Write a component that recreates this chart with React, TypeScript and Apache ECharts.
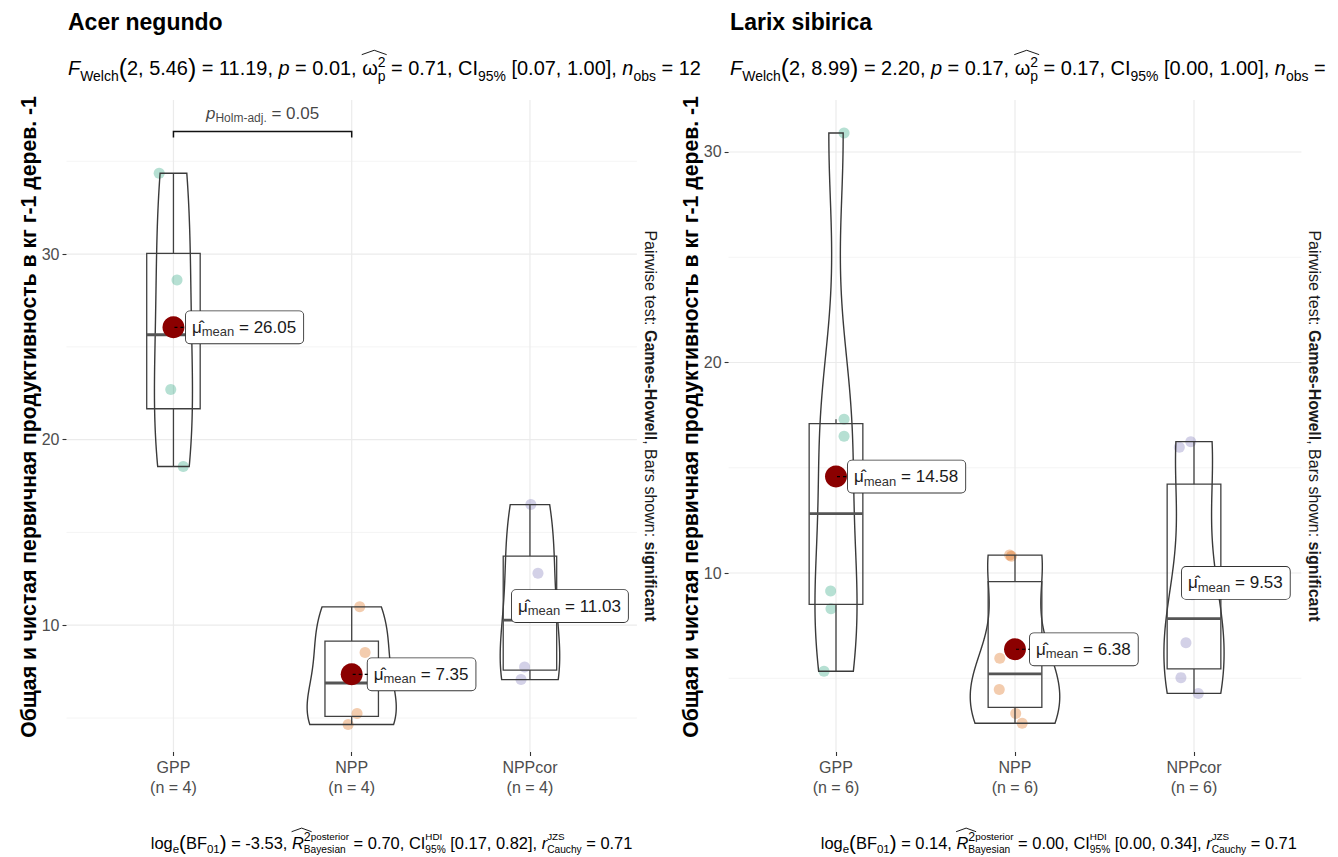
import React, { useEffect, useRef } from 'react';
import * as echarts from 'echarts';

const FONT = "'Liberation Sans', Arial, Helvetica, sans-serif";

// ---------- data ----------
const categories = ['GPP', 'NPP', 'NPPcor'];
const acerGPP = [34.35, 28.6, 22.7, 18.55];
const acerNPP = [10.99, 8.53, 5.24, 4.65];
const acerNPPcor = [16.5, 12.8, 7.75, 7.07];
const larixGPP = [30.9, 17.3, 16.5, 9.15, 8.3, 5.33];
const larixNPP = [10.85, 10.8, 5.95, 4.47, 3.33, 2.86];
const larixNPPcor = [16.24, 15.97, 8.97, 6.69, 5.03, 4.28];
const yTicks = [10, 20, 30];
const yMinorTicks = [5, 15, 25, 35];

const acerPairwise = [{ from: 'GPP', to: 'NPP', p: '0.05', y: 36.6 }];
const acerWelch = { df: '5.46', F: '11.19', p: '0.01', omega: '0.71', ci: '[0.07, 1.00]' };
const larixWelch = { df: '8.99', F: '2.20', p: '0.17', omega: '0.17', ci: '[0.00, 1.00]' };
const acerBayes = { bf: '-3.53', r2: '0.70', ci: '[0.17, 0.82]', r: '0.71' };
const larixBayes = { bf: '0.14', r2: '0.00', ci: '[0.00, 0.34]', r: '0.71' };

const Y_TITLE = 'Общая и чистая первичная продуктивность в кг г-1 дерев. -1';

// horizontal jitter of the raw points (category units)
const acerJitter = [[-0.08, 0.02, -0.015, 0.055], [0.045, 0.075, 0.03, -0.02], [0.005, 0.045, -0.03, -0.05]];
const larixJitter = [
  [0.045, 0.045, 0.045, -0.03, -0.028, -0.067],
  [-0.03, -0.02, -0.085, -0.088, 0.004, 0.04],
  [-0.018, -0.082, -0.01, -0.045, -0.073, 0.024],
];

const PALETTE = ['#1B9E77', '#D95F02', '#7570B3'];
const X_MIN = -0.6;
const X_MAX = 2.6;

// ---------- stats helpers ----------
const mean = (a: number[]) => a.reduce((s, v) => s + v, 0) / a.length;
const sdev = (a: number[]) => {
  const m = mean(a);
  return Math.sqrt(a.reduce((s, v) => s + (v - m) ** 2, 0) / (a.length - 1));
};
const q7 = (a: number[], p: number) => {
  const s = [...a].sort((x, y) => x - y);
  const h = (s.length - 1) * p;
  const lo = Math.floor(h);
  const hi = Math.min(lo + 1, s.length - 1);
  return s[lo] + (h - lo) * (s[hi] - s[lo]);
};
const nrd0 = (a: number[]) => {
  const hi = sdev(a);
  const lo = Math.min(hi, (q7(a, 0.75) - q7(a, 0.25)) / 1.34) || hi || 1;
  return 0.9 * lo * Math.pow(a.length, -0.2);
};
function density(a: number[], n = 200) {
  const bw = nrd0(a);
  const mn = Math.min(...a);
  const mx = Math.max(...a);
  const ys: number[] = [];
  const ds: number[] = [];
  for (let j = 0; j < n; j++) {
    const y = mn + ((mx - mn) * j) / (n - 1);
    let d = 0;
    for (const x of a) {
      const z = (y - x) / bw;
      d += Math.exp(-0.5 * z * z);
    }
    ys.push(y);
    ds.push(d / (a.length * bw * Math.sqrt(2 * Math.PI)));
  }
  return { ys, ds };
}
function boxStats(a: number[]) {
  const q1 = q7(a, 0.25);
  const med = q7(a, 0.5);
  const q3 = q7(a, 0.75);
  const iqr = q3 - q1;
  const lo = Math.min(...a.filter((v) => v >= q1 - 1.5 * iqr));
  const hi = Math.max(...a.filter((v) => v <= q3 + 1.5 * iqr));
  return [q1, med, q3, lo, hi];
}

// ---------- math text layout ----------
let _ctx: CanvasRenderingContext2D | null = null;
function textWidth(t: string, size: number, it?: boolean, b?: boolean) {
  if (!_ctx) _ctx = document.createElement('canvas').getContext('2d');
  _ctx!.font = `${it ? 'italic ' : ''}${b ? 'bold ' : ''}${size}px ${FONT}`;
  return _ctx!.measureText(t).width;
}
type Piece = { t: string; k?: number; it?: boolean; b?: boolean; dy?: number; sup?: Piece[]; sub?: Piece[]; hat?: boolean };
type Item = { t: string; x: number; dy: number; f: number; it?: boolean; b?: boolean };

function layout(pieces: Piece[], s: number) {
  const items: Item[] = [];
  const hats: number[][] = [];
  let x = 0;
  const push = (t: string, xx: number, dy: number, f: number, it?: boolean, b?: boolean) => {
    const lead = t.length - t.trimStart().length;
    const tt = t.trim();
    if (tt) items.push({ t: tt, x: xx + textWidth(t.slice(0, lead), f, it, b), dy, f, it, b });
    return textWidth(t, f, it, b);
  };
  for (const p of pieces) {
    const f = (p.k ?? 1) * s;
    const x0 = x;
    const w = p.t ? push(p.t, x, (p.dy ?? 0) * s, f, p.it, p.b) : 0;
    x += w;
    let supW = 0;
    let subW = 0;
    let firstSup = 0;
    if (p.sup) {
      let xx = x;
      p.sup.forEach((q, qi) => {
        const fq = (q.k ?? 0.7) * s;
        const wq = push(q.t, xx, (q.dy ?? -0.42) * s, fq, q.it, q.b);
        if (qi === 0) firstSup = wq;
        xx += wq;
      });
      supW = xx - x;
    }
    if (p.sub) {
      let xx = x;
      p.sub.forEach((q) => {
        const fq = (q.k ?? 0.7) * s;
        xx += push(q.t, xx, (q.dy ?? 0.3) * s, fq, q.it, q.b);
      });
      subW = xx - x;
    }
    if (p.hat) hats.push([x0 - 0.02 * s, x + firstSup + 0.06 * s]);
    x += Math.max(supW, subW);
  }
  return { items, hats, width: x };
}

function mathGroup(pieces: Piece[], s: number, o: { x: number; y: number; align?: string; rotation?: number; center?: boolean; color?: string }) {
  const L = layout(pieces, s);
  const off = o.align === 'right' ? -L.width : o.align === 'center' ? -L.width / 2 : 0;
  const color = o.color ?? '#000';
  const shift = o.center ? 0.35 * s : 0;
  const children: any[] = L.items.map((it) => ({
    type: 'text',
    x: off + it.x,
    y: it.dy - 0.35 * it.f + shift,
    style: {
      text: it.t,
      fontSize: it.f,
      fontFamily: FONT,
      fontStyle: it.it ? 'italic' : 'normal',
      fontWeight: it.b ? 'bold' : 'normal',
      fill: color,
      textAlign: 'left',
      textVerticalAlign: 'middle',
    },
  }));
  L.hats.forEach(([a, b]) => {
    children.push({
      type: 'polyline',
      shape: { points: [[off + a, -1.02 * s + shift], [off + (a + b) / 2, -1.24 * s + shift], [off + b, -1.02 * s + shift]] },
      style: { stroke: color, lineWidth: 0.9, fill: 'none' },
    });
  });
  return { type: 'group', x: o.x, y: o.y, rotation: o.rotation ?? 0, children };
}

const SUBK = 0.7;
// showN: the reference's right-hand subtitle is cut at the page edge right after "n_obs ="
function subtitlePieces(w: typeof acerWelch, n: number, showN: boolean): Piece[] {
  return [
    { t: 'F', it: true },
    { t: 'Welch', k: SUBK, dy: 0.3 },
    { t: '(', k: 1.25, dy: 0.08 },
    { t: `2, ${w.df}` },
    { t: ')', k: 1.25, dy: 0.08 },
    { t: ` = ${w.F}, ` },
    { t: 'p', it: true },
    { t: ` = ${w.p}, ` },
    { t: 'ω', hat: true, sup: [{ t: '2' }], sub: [{ t: 'p' }] },
    { t: ` = ${w.omega}, CI` },
    { t: '95%', k: SUBK, dy: 0.3 },
    { t: ` ${w.ci}, ` },
    { t: 'n', it: true },
    { t: 'obs', k: SUBK, dy: 0.3 },
    { t: showN ? ` = ${n}` : ' =' },
  ];
}
function captionPieces(b: typeof acerBayes): Piece[] {
  return [
    { t: 'log' },
    { t: 'e', k: SUBK, dy: 0.3 },
    { t: '(', k: 1.25, dy: 0.08 },
    { t: 'BF' },
    { t: '01', k: SUBK, dy: 0.3 },
    { t: ')', k: 1.25, dy: 0.08 },
    { t: ` = ${b.bf}, ` },
    { t: 'R', it: true, hat: true, sup: [{ t: '2', k: 0.75 }, { t: 'posterior', k: 0.6, dy: -0.5 }], sub: [{ t: 'Bayesian', k: 0.62 }] },
    { t: ` = ${b.r2}, ` },
    { t: 'CI', sup: [{ t: 'HDI', k: 0.6, dy: -0.5 }], sub: [{ t: '95%', k: 0.62 }] },
    { t: ` ${b.ci}, ` },
    { t: 'r', it: true, sup: [{ t: 'JZS', k: 0.6, dy: -0.5 }], sub: [{ t: 'Cauchy', k: 0.62 }] },
    { t: ` = ${b.r}` },
  ];
}

// ---------- option ----------
function buildOption() {
  const panels = [
    {
      title: 'Acer negundo', groups: [acerGPP, acerNPP, acerNPPcor], jitter: acerJitter,
      yMin: 3.168, yMax: 38.3, left: 66.5, width: 570.4, nudge: [12.5, 16, -18],
      pairs: acerPairwise, welch: acerWelch, bayes: acerBayes, showN: true,
    },
    {
      title: 'Larix sibirica', groups: [larixGPP, larixNPP, larixNPPcor], jitter: larixJitter,
      yMin: 1.497, yMax: 32.47, left: 728.6, width: 572.8, nudge: [12, 15, -12],
      pairs: [] as typeof acerPairwise, welch: larixWelch, bayes: larixBayes, showN: false,
    },
  ];
  const TOP = 100;
  const HEIGHT = 652;

  const grid: any[] = [];
  const xAxis: any[] = [];
  const yAxis: any[] = [];
  const series: any[] = [];
  const graphic: any[] = [];

  // font sizes fitted to the reference extents
  const n0 = panels[0].groups.reduce((s, g) => s + g.length, 0);
  const sSub = (18 * 633) / layout(subtitlePieces(panels[0].welch, n0, true), 18).width;
  const sCap = (15 * 482) / layout(captionPieces(panels[0].bayes), 15).width;

  panels.forEach((P, p) => {
    const nObs = P.groups.reduce((s, g) => s + g.length, 0);
    grid.push({ left: P.left, top: TOP, width: P.width, height: HEIGHT });
    xAxis.push({
      type: 'value', gridIndex: p, min: X_MIN, max: X_MAX,
      axisLine: { show: false, onZero: false }, splitLine: { show: false },
      axisTick: { show: true, customValues: categories.map((_, i) => i), length: 4, lineStyle: { color: '#333', width: 1.1 } },
      axisLabel: {
        customValues: categories.map((_, i) => i),
        formatter: (v: number) => `${categories[Math.round(v)]}\n(n = ${P.groups[Math.round(v)].length})`,
        color: '#4D4D4D', fontSize: 16, lineHeight: 20, margin: 5, fontFamily: FONT,
      },
    });
    yAxis.push({
      type: 'value', gridIndex: p, min: P.yMin, max: P.yMax,
      axisLine: { show: false, onZero: false }, splitLine: { show: false },
      axisTick: { show: true, customValues: yTicks, length: 4, lineStyle: { color: '#333', width: 1.1 } },
      axisLabel: { customValues: yTicks, color: '#4D4D4D', fontSize: 16, margin: 7, fontFamily: FONT },
    });

    const inRange = (v: number) => v >= P.yMin && v <= P.yMax;
    const gridLines = [
      ...yMinorTicks.filter(inRange).map((v) => [0, v, 0]),
      ...yTicks.filter(inRange).map((v) => [0, v, 1]),
      ...categories.map((_, i) => [1, i, 1]),
    ];
    series.push({
      type: 'custom', xAxisIndex: p, yAxisIndex: p, z: 0, silent: true, data: gridLines,
      renderItem: (_: any, api: any) => {
        const kind = api.value(0);
        const v = api.value(1);
        const major = api.value(2);
        const a = kind === 0 ? api.coord([X_MIN, v]) : api.coord([v, P.yMin]);
        const b = kind === 0 ? api.coord([X_MAX, v]) : api.coord([v, P.yMax]);
        return {
          type: 'line', shape: { x1: a[0], y1: a[1], x2: b[0], y2: b[1] },
          style: { stroke: major ? '#EBEBEB' : '#F1F1F1', lineWidth: major ? 1.2 : 0.8 },
        };
      },
    });

    // raw points
    series.push({
      type: 'scatter', xAxisIndex: p, yAxisIndex: p, z: 1, silent: true, symbolSize: 11,
      data: P.groups.flatMap((vals, i) => vals.map((v, j) => ({ value: [i + P.jitter[i][j], v], itemStyle: { color: PALETTE[i], opacity: 0.32 } }))),
    });

    // violins
    const dens = P.groups.map((g) => density(g));
    const dmax = Math.max(...dens.map((d) => Math.max(...d.ds)));
    series.push({
      type: 'custom', xAxisIndex: p, yAxisIndex: p, z: 2, silent: true,
      data: P.groups.map((_, i) => [i]),
      renderItem: (_: any, api: any) => {
        const g = api.value(0);
        const d = dens[g];
        const L: number[][] = [];
        const R: number[][] = [];
        d.ys.forEach((y, j) => {
          const hw = (0.25 * d.ds[j]) / dmax;
          L.push(api.coord([g - hw, y]));
          R.push(api.coord([g + hw, y]));
        });
        return { type: 'polygon', shape: { points: L.concat(R.reverse()) }, style: { fill: 'none', stroke: '#3a3a3a', lineWidth: 1.4 } };
      },
    });

    // boxes
    series.push({
      type: 'custom', xAxisIndex: p, yAxisIndex: p, z: 3, silent: true,
      data: P.groups.map((g, i) => [i, ...boxStats(g)]),
      renderItem: (_: any, api: any) => {
        const x = api.value(0);
        const q1 = api.value(1), med = api.value(2), q3 = api.value(3), lo = api.value(4), hi = api.value(5);
        const tl = api.coord([x - 0.15, q3]);
        const br = api.coord([x + 0.15, q1]);
        const m1 = api.coord([x - 0.15, med]);
        const m2 = api.coord([x + 0.15, med]);
        const w1 = api.coord([x, q3]);
        const w2 = api.coord([x, hi]);
        const w3 = api.coord([x, q1]);
        const w4 = api.coord([x, lo]);
        const st = { stroke: '#404040', lineWidth: 1.3, fill: 'none' };
        return {
          type: 'group',
          children: [
            { type: 'rect', shape: { x: tl[0], y: tl[1], width: br[0] - tl[0], height: br[1] - tl[1] }, style: st },
            { type: 'line', shape: { x1: m1[0], y1: m1[1], x2: m2[0], y2: m2[1] }, style: { stroke: '#555', lineWidth: 2.8 } },
            { type: 'line', shape: { x1: w1[0], y1: w1[1], x2: w2[0], y2: w2[1] }, style: st },
            { type: 'line', shape: { x1: w3[0], y1: w3[1], x2: w4[0], y2: w4[1] }, style: st },
          ],
        };
      },
    });

    // mean points + labels
    const means = P.groups.map((g) => mean(g));
    series.push({
      type: 'scatter', xAxisIndex: p, yAxisIndex: p, z: 6, silent: true, symbolSize: 22,
      itemStyle: { color: '#8B0000', opacity: 1 },
      data: means.map((m, i) => ({ value: [i, m], label: { distance: P.nudge[i] - 11 } })),
      label: {
        show: true, position: 'right', align: 'left', verticalAlign: 'middle',
        formatter: (prm: any) => `{mu|μ̂}{sub|mean}{m| = ${prm.value[1].toFixed(2)}}`,
        backgroundColor: '#fff', borderColor: '#333', borderWidth: 0.9, borderRadius: 4, padding: [6, 7, 6, 6],
        color: '#1a1a1a',
        rich: {
          mu: { fontSize: 17, fontFamily: FONT, color: '#1a1a1a', lineHeight: 20 },
          sub: { fontSize: 13, fontFamily: FONT, color: '#333', height: 11, lineHeight: 11, verticalAlign: 'bottom' },
          m: { fontSize: 17, fontFamily: FONT, color: '#1a1a1a', lineHeight: 20 },
        },
      },
    });
    // dashed connectors from mean to label
    series.push({
      type: 'custom', xAxisIndex: p, yAxisIndex: p, z: 7, silent: true,
      data: means.map((m, i) => [i, m]),
      renderItem: (params: any, api: any) => {
        const i = api.value(0);
        const c = api.coord([i, api.value(1)]);
        const nd = P.nudge[params.dataIndex];
        if (nd <= 0) return { type: 'group', children: [] };
        return { type: 'line', shape: { x1: c[0] + 1, y1: c[1], x2: c[0] + nd, y2: c[1] }, style: { stroke: '#000', lineWidth: 1.1, lineDash: [3, 3] } };
      },
    });

    // significance brackets
    if (P.pairs.length) {
      const idx = (c: string) => categories.indexOf(c);
      series.push({
        type: 'custom', xAxisIndex: p, yAxisIndex: p, z: 4, silent: true,
        data: P.pairs.map((pr) => [idx(pr.from), idx(pr.to), pr.y]),
        renderItem: (_: any, api: any) => {
          const a = api.coord([api.value(0), api.value(2)]);
          const b = api.coord([api.value(1), api.value(2)]);
          return {
            type: 'polyline',
            shape: { points: [[a[0], a[1] + 6], [a[0], a[1]], [b[0], b[1]], [b[0], b[1] + 6]] },
            style: { stroke: '#111', lineWidth: 1.5, fill: 'none' },
          };
        },
      });
      series.push({
        type: 'scatter', xAxisIndex: p, yAxisIndex: p, z: 5, silent: true, symbolSize: 1,
        itemStyle: { color: 'rgba(0,0,0,0)' },
        data: P.pairs.map((pr) => ({ value: [(idx(pr.from) + idx(pr.to)) / 2, pr.y], pv: pr.p })),
        label: {
          show: true, position: 'top', distance: 8, align: 'center', verticalAlign: 'bottom',
          formatter: (prm: any) => `{p|p}{s|Holm-adj.}{n| = ${prm.data.pv}}`,
          rich: {
            p: { fontSize: 17, fontStyle: 'italic', fontFamily: FONT, color: '#111', lineHeight: 20 },
            s: { fontSize: 12, fontFamily: FONT, color: '#111', height: 10, lineHeight: 10, verticalAlign: 'bottom' },
            n: { fontSize: 17, fontFamily: FONT, color: '#111', lineHeight: 20 },
          },
        },
      });
    }

    // texts
    graphic.push(mathGroup([{ t: P.title, b: true }], 23, { x: P.left + 1.5, y: 30 }));
    graphic.push(mathGroup(subtitlePieces(P.welch, nObs, P.showN), sSub, { x: P.left + 1.5, y: 75 }));
    graphic.push(mathGroup(captionPieces(P.bayes), sCap, { x: P.left + P.width - 4.5, y: 848.5, align: 'right' }));
    graphic.push(mathGroup([{ t: Y_TITLE, b: true }], 21.2, { x: P.left - 38.5, y: 417, align: 'center', rotation: Math.PI / 2, center: true }));
    graphic.push(
      mathGroup(
        [{ t: 'Pairwise test: ' }, { t: 'Games-Howell', b: true }, { t: ', Bars shown: ' }, { t: 'significant', b: true }],
        16,
        { x: P.left + P.width + 13.5, y: TOP + HEIGHT / 2, align: 'center', rotation: -Math.PI / 2, center: true, color: '#1a1a1a' },
      ),
    );
  });

  return {
    animation: false,
    backgroundColor: '#fff',
    grid, xAxis, yAxis, series,
    graphic: { elements: graphic },
  };
}

export default function App() {
  const ref = useRef<HTMLDivElement>(null);
  useEffect(() => {
    document.body.style.margin = '0';
    const chart = echarts.init(ref.current!, null, { renderer: 'svg' });
    chart.setOption(buildOption() as any);
    return () => chart.dispose();
  }, []);
  return <div ref={ref} style={{ width: 1338, height: 857, background: '#fff' }} />;
}
